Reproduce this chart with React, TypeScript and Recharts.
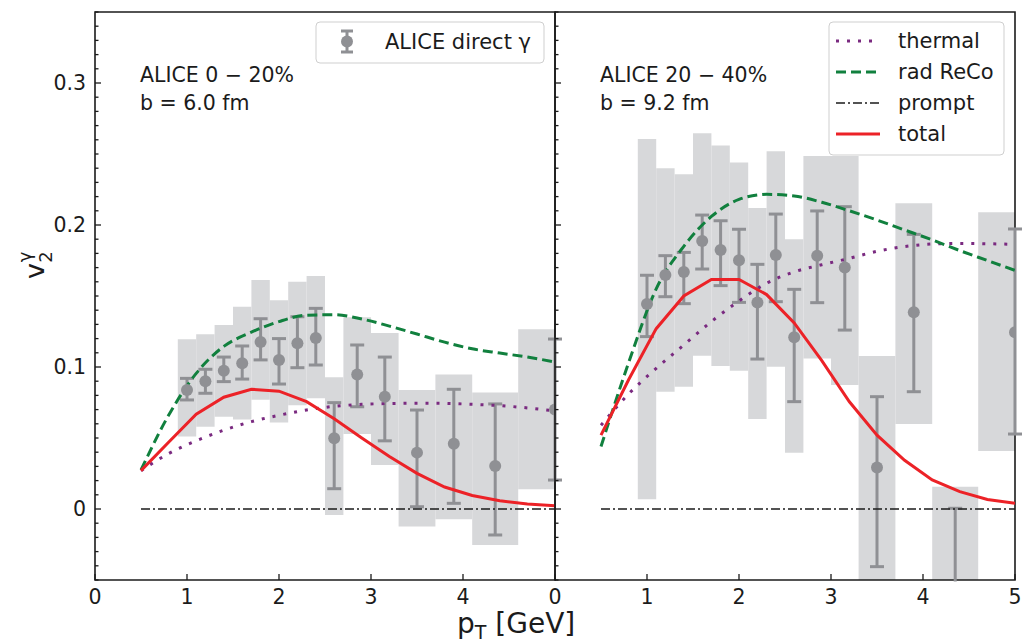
import React from 'react';
import { ComposedChart, Line, Scatter, ErrorBar, XAxis, YAxis, ReferenceArea } from 'recharts';

const FONT = '"DejaVu Sans", Verdana, sans-serif';
const INK = '#1b1b1b';
const BOX = '#d7d8da';
const PT = '#8f9094';
const THERMAL = '#7a2a80';
const RECO = '#11803e';
const TOTAL = '#ec2227';

// model curves, sampled every 0.3 GeV
const curveX = [0.5, 0.8, 1.1, 1.4, 1.7, 2.0, 2.3, 2.6, 2.9, 3.2, 3.5, 3.8, 4.1, 4.4, 4.7, 5.0];

const thermalCentral = [0.027, 0.039, 0.048, 0.0555, 0.0615, 0.066, 0.0697, 0.0723, 0.0737, 0.0743, 0.0745, 0.0744, 0.0737, 0.0728, 0.0712, 0.069];
const recoCentral = [0.0275, 0.066, 0.0955, 0.1145, 0.1245, 0.132, 0.1365, 0.1368, 0.1338, 0.1288, 0.1232, 0.1175, 0.1128, 0.1098, 0.107, 0.1035];
const totalCentral = [0.027, 0.047, 0.0667, 0.0787, 0.0843, 0.083, 0.0756, 0.0635, 0.05, 0.037, 0.0251, 0.0155, 0.0095, 0.0058, 0.0035, 0.0022];

const thermalSemi = [0.059, 0.081, 0.099, 0.1155, 0.132, 0.1465, 0.159, 0.167, 0.172, 0.1765, 0.1815, 0.1848, 0.1866, 0.187, 0.1868, 0.1864];
const recoSemi = [0.044, 0.103, 0.155, 0.185, 0.206, 0.218, 0.2216, 0.2205, 0.216, 0.21, 0.2035, 0.1965, 0.1895, 0.182, 0.175, 0.168];
const totalSemi = [0.052, 0.091, 0.127, 0.15, 0.1617, 0.1617, 0.151, 0.131, 0.1045, 0.0755, 0.052, 0.0343, 0.0205, 0.0122, 0.0067, 0.004];

const promptX = [0.5, 5.0];
const promptY = [0, 0];

// ALICE direct photon v2
const dataX = [1.0, 1.2, 1.4, 1.6, 1.8, 2.0, 2.2, 2.4, 2.6, 2.85, 3.15, 3.5, 3.9, 4.35, 5.0];

const centralY = [0.0838, 0.09, 0.0974, 0.1026, 0.1176, 0.105, 0.1167, 0.1204, 0.0498, 0.0948, 0.079, 0.0397, 0.046, 0.0303, 0.07];
const centralHi = [0.092, 0.0984, 0.107, 0.1148, 0.134, 0.12, 0.1354, 0.1413, 0.0749, 0.1155, 0.107, 0.0697, 0.0843, 0.074, 0.1197];
const centralLo = [0.0768, 0.0815, 0.0897, 0.0915, 0.105, 0.088, 0.0995, 0.1014, 0.0143, 0.072, 0.048, 0.0016, 0.004, -0.0183, 0.0204];

const semiY = [0.1444, 0.1648, 0.1669, 0.1887, 0.1824, 0.1751, 0.1455, 0.1789, 0.1209, 0.1784, 0.17, 0.0293, 0.1385, -0.06, 0.1244];
const semiHi = [0.1646, 0.1784, 0.1807, 0.207, 0.203, 0.197, 0.1723, 0.2077, 0.1547, 0.2099, 0.2129, 0.0791, 0.1934, 0.0005, 0.1972];
const semiLo = [0.1214, 0.1495, 0.1446, 0.169, 0.1573, 0.1455, 0.1056, 0.146, 0.0756, 0.1453, 0.126, -0.0406, 0.0826, -0.12, 0.0528];

// systematic boxes
const binEdges = [0.9, 1.1, 1.3, 1.5, 1.7, 1.9, 2.1, 2.3, 2.5, 2.7, 3.0, 3.3, 3.7, 4.1, 4.6, 5.0];
const centralSysLo = [0.051, 0.058, 0.065, 0.063, 0.077, 0.061, 0.073, 0.078, -0.0042, 0.0528, 0.031, -0.0124, -0.0073, -0.0254, 0.0139];
const centralSysHi = [0.1195, 0.123, 0.1296, 0.1425, 0.1613, 0.147, 0.16, 0.164, 0.0927, 0.135, 0.124, 0.0838, 0.0948, 0.082, 0.1265];
const semiSysLo = [0.0068, 0.0826, 0.0861, 0.108, 0.1007, 0.0974, 0.0634, 0.1002, 0.0397, 0.106, 0.0873, -0.07, 0.0599, -0.08, 0.0408];
const semiSysHi = [0.2606, 0.24, 0.2357, 0.2646, 0.2559, 0.2441, 0.212, 0.252, 0.19, 0.2486, 0.2486, 0.1077, 0.2153, 0.0157, 0.209];

const yTicks = Array.from({ length: 41 }, (_, i) => Math.round((-0.05 + i * 0.01) * 100) / 100);
const yLabels: Record<string, string> = { '0': '0', '0.1': '0.1', '0.2': '0.2', '0.3': '0.3' };

const curve = (xs: number[], ys: number[]) => xs.map((x, i) => ({ x, y: ys[i] }));
const points = (ys: number[], hi: number[], lo: number[]) =>
  dataX.map((x, i) => ({ x, y: ys[i], err: [ys[i] - lo[i], hi[i] - ys[i]] }));

function YTick({ x, y, payload, labels }: any) {
  const v = payload.value;
  const key = String(v);
  const major = key in yLabels;
  return (
    <g>
      <line x1={x} x2={x + (major ? 6 : 3.5)} y1={y} y2={y} stroke={INK} strokeWidth={1.3} />
      {labels && major && (
        <text x={x - 9} y={y} dy="0.36em" textAnchor="end" fontSize={20.5} fontFamily={FONT} fill={INK}>
          {yLabels[key]}
        </text>
      )}
    </g>
  );
}

function XTick({ x, y, payload }: any) {
  return (
    <g>
      <line x1={x} x2={x} y1={y} y2={y - 6} stroke={INK} strokeWidth={1.3} />
      <text x={x} y={y + 24} textAnchor="middle" fontSize={20.5} fontFamily={FONT} fill={INK}>
        {payload.value}
      </text>
    </g>
  );
}

function Panel({ thermal, reco, total, pts, sysLo, sysHi, xTicks, labels, width, margin, yWidth }: any) {
  return (
    <ComposedChart width={width} height={642} margin={margin}>
      <XAxis
        type="number"
        dataKey="x"
        domain={[0, 5]}
        ticks={xTicks}
        interval={0}
        allowDataOverflow
        axisLine={false}
        tickLine={false}
        tickSize={0}
        tickMargin={0}
        height={30}
        tick={<XTick />}
      />
      <YAxis
        type="number"
        domain={[-0.05, 0.35]}
        ticks={yTicks}
        interval={0}
        allowDataOverflow
        axisLine={false}
        tickLine={false}
        tickSize={0}
        tickMargin={0}
        width={yWidth}
        tick={<YTick labels={labels} />}
      />
      {sysLo.map((lo: number, i: number) => (
        <ReferenceArea
          key={i}
          x1={binEdges[i]}
          x2={binEdges[i + 1]}
          y1={lo}
          y2={sysHi[i]}
          fill={BOX}
          fillOpacity={1}
          stroke="none"
          ifOverflow="hidden"
        />
      ))}
      <Scatter
        data={pts}
        dataKey="y"
        isAnimationActive={false}
        shape={(p: any) => <circle cx={p.cx} cy={p.cy} r={6} fill={PT} />}
      >
        <ErrorBar dataKey="err" direction="y" width={7} stroke={PT} strokeWidth={3} isAnimationActive={false} />
      </Scatter>
      <Line data={curve(promptX, promptY)} dataKey="y" stroke={INK} strokeWidth={1.3} strokeDasharray="9 3 2 3" dot={false} activeDot={false} isAnimationActive={false} />
      <Line data={curve(curveX, thermal)} dataKey="y" type="monotone" stroke={THERMAL} strokeWidth={3} strokeDasharray="3 8" dot={false} activeDot={false} isAnimationActive={false} />
      <Line data={curve(curveX, reco)} dataKey="y" type="monotone" stroke={RECO} strokeWidth={3} strokeDasharray="10 5" dot={false} activeDot={false} isAnimationActive={false} />
      <Line data={curve(curveX, total)} dataKey="y" type="linear" stroke={TOTAL} strokeWidth={3} dot={false} activeDot={false} isAnimationActive={false} />
      <ReferenceArea x1={0} x2={5} y1={-0.05} y2={0.35} fill="none" stroke={INK} strokeWidth={1.6} ifOverflow="visible" />
    </ComposedChart>
  );
}

const txt = { fontFamily: FONT, fill: INK };

export default function App() {
  return (
    <div style={{ position: 'absolute', left: 0, top: 0, width: 1024, height: 642, background: '#fff' }}>
      <div style={{ position: 'absolute', left: 0, top: 0 }}>
        <Panel
          thermal={thermalCentral}
          reco={recoCentral}
          total={totalCentral}
          pts={points(centralY, centralHi, centralLo)}
          sysLo={centralSysLo}
          sysHi={centralSysHi}
          xTicks={[0, 1, 2, 3, 4]}
          labels
          width={568}
          yWidth={60}
          margin={{ top: 12, right: 13, bottom: 32, left: 35 }}
        />
      </div>
      <div style={{ position: 'absolute', left: 548, top: 0 }}>
        <Panel
          thermal={thermalSemi}
          reco={recoSemi}
          total={totalSemi}
          pts={points(semiY, semiHi, semiLo)}
          sysLo={semiSysLo}
          sysHi={semiSysHi}
          xTicks={[0, 1, 2, 3, 4, 5]}
          labels={false}
          width={475}
          yWidth={7}
          margin={{ top: 12, right: 8, bottom: 32, left: 0 }}
        />
      </div>
      <svg width={1024} height={642} style={{ position: 'absolute', left: 0, top: 0, pointerEvents: 'none' }}>
        {/* the error bar below the frame is cut at the axis, as in the original */}
        <rect x={935} y={581.5} width={40} height={61} fill="#fff" />

        {/* axis titles */}
        <g transform="translate(44,265) rotate(-90)">
          <text x={-6} y={0} textAnchor="middle" fontSize={27} {...txt}>v</text>
          <text x={8} y={8} textAnchor="middle" fontSize={18} {...txt}>2</text>
          <text x={8} y={-13} textAnchor="middle" fontSize={18} {...txt}>γ</text>
        </g>
        <text x={457} y={633} fontSize={28} {...txt}>
          p<tspan fontSize={19} dy={6}>T</tspan>
          <tspan dy={-6}> [GeV]</tspan>
        </text>

        {/* panel annotations */}
        <text x={140} y={82} fontSize={20.5} {...txt}>ALICE 0 − 20%</text>
        <text x={140} y={110} fontSize={20.5} {...txt}>b = 6.0 fm</text>
        <text x={600} y={82} fontSize={20.5} {...txt}>ALICE 20 − 40%</text>
        <text x={600} y={110} fontSize={20.5} {...txt}>b = 9.2 fm</text>

        {/* data legend */}
        <rect x={316} y={22} width={228} height={41} rx={4} fill="#fff" fillOpacity={0.8} stroke="#cfcfcf" strokeWidth={1} />
        <line x1={347} x2={347} y1={31} y2={52} stroke={PT} strokeWidth={3} />
        <line x1={341} x2={353} y1={31} y2={31} stroke={PT} strokeWidth={3} />
        <line x1={341} x2={353} y1={52} y2={52} stroke={PT} strokeWidth={3} />
        <circle cx={347} cy={41.5} r={6} fill={PT} />
        <text x={385} y={49} fontSize={21} {...txt}>ALICE direct γ</text>

        {/* model legend */}
        <rect x={829} y={22} width={175} height={133} rx={4} fill="#fff" fillOpacity={0.8} stroke="#cfcfcf" strokeWidth={1} />
        <line x1={836} x2={880} y1={41} y2={41} stroke={THERMAL} strokeWidth={3} strokeDasharray="3 8" />
        <text x={898} y={48} fontSize={21} {...txt}>thermal</text>
        <line x1={836} x2={880} y1={72} y2={72} stroke={RECO} strokeWidth={3} strokeDasharray="10 5" />
        <text x={898} y={79} fontSize={21} {...txt}>rad ReCo</text>
        <line x1={836} x2={880} y1={103} y2={103} stroke={INK} strokeWidth={1.3} strokeDasharray="9 3 2 3" />
        <text x={898} y={110} fontSize={21} {...txt}>prompt</text>
        <line x1={836} x2={880} y1={134} y2={134} stroke={TOTAL} strokeWidth={3} />
        <text x={898} y={141} fontSize={21} {...txt}>total</text>
      </svg>
    </div>
  );
}
